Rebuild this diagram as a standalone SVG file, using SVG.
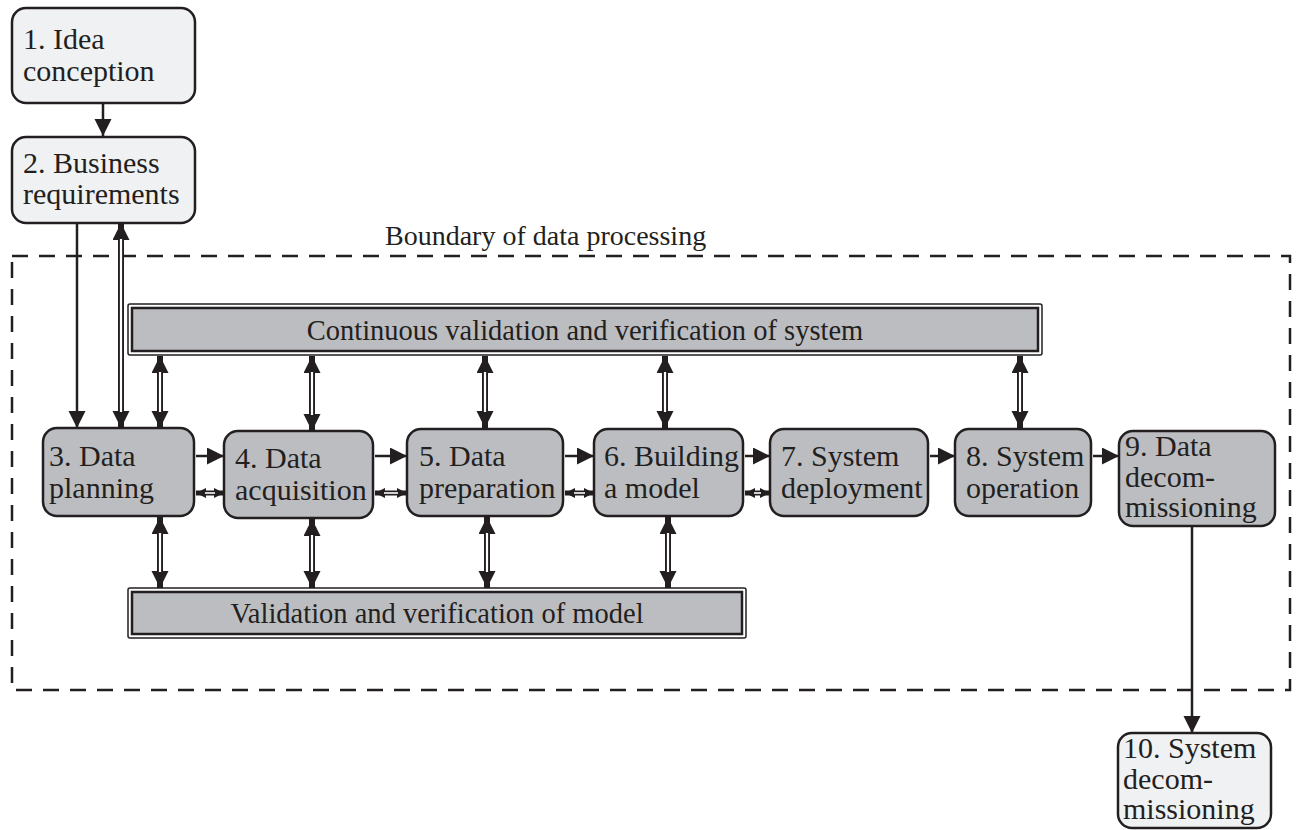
<svg xmlns="http://www.w3.org/2000/svg" width="1300" height="830" viewBox="0 0 1300 830">
  <style>
    text { font-family: "Liberation Serif", "Times New Roman", serif; fill: #231f20; }
    .t { font-size: 30px; }
    .bar-t { font-size: 28.5px; }
    .light { fill: #f0f1f3; stroke: #231f20; stroke-width: 2.5; }
    .dark { fill: #bcbdc1; stroke: #231f20; stroke-width: 2.5; }
    .bar-o { fill: #ffffff; stroke: #231f20; stroke-width: 1.5; }
    .bar-i { fill: #bcbdc1; stroke: #231f20; stroke-width: 2.5; }
    .boundary { fill: none; stroke: #231f20; stroke-width: 2.5; stroke-dasharray: 16 11; }
    .s { stroke: #231f20; stroke-width: 2.5; fill: none; }
    .d-out { stroke: #231f20; stroke-width: 6; fill: none; }
    .d-in { stroke: #ffffff; stroke-width: 2.2; fill: none; }
    .ds-out { stroke: #231f20; stroke-width: 5; fill: none; }
    .ds-in { stroke: #ffffff; stroke-width: 1.6; fill: none; }
  </style>
  <defs>
    <marker id="head" markerUnits="userSpaceOnUse" markerWidth="19" markerHeight="19" refX="17" refY="8.5" orient="auto-start-reverse">
      <path d="M0,0 L17,8.5 L0,17 z" fill="#231f20"/>
    </marker>
    <marker id="head-sm" markerUnits="userSpaceOnUse" markerWidth="11" markerHeight="11" refX="10" refY="5" orient="auto-start-reverse">
      <path d="M0,0 L10,5 L0,10 z" fill="#231f20"/>
    </marker>
  </defs>

  <rect width="1300" height="830" fill="#ffffff"/>

  <!-- boundary of the data processing stage -->
  <g id="boundary">
    <rect class="boundary" x="12" y="256" width="1278" height="434"/>
    <text x="385" y="245" style="font-size:28px">Boundary of data processing</text>
  </g>

  <!-- connectors -->
  <g id="connectors">
    <line class="s" x1="103" y1="103" x2="103" y2="136" marker-end="url(#head)"/>
    <line class="s" x1="77" y1="223" x2="77" y2="428" marker-end="url(#head)"/>
    <line class="s" x1="1192" y1="526" x2="1192" y2="733" marker-end="url(#head)"/>

    <!-- forward flow between stages -->
    <line class="s" x1="196" y1="456" x2="224" y2="456" marker-end="url(#head)"/>
    <line class="s" x1="375" y1="456" x2="407" y2="456" marker-end="url(#head)"/>
    <line class="s" x1="565" y1="456" x2="594" y2="456" marker-end="url(#head)"/>
    <line class="s" x1="745" y1="456" x2="770" y2="456" marker-end="url(#head)"/>
    <line class="s" x1="930" y1="456" x2="955" y2="456" marker-end="url(#head)"/>
    <line class="s" x1="1093" y1="456" x2="1119" y2="456" marker-end="url(#head)"/>

    <!-- two-way feedback between stages -->
    <line class="ds-out" x1="196" y1="493" x2="224" y2="493" marker-start="url(#head-sm)" marker-end="url(#head-sm)"/>
    <line class="ds-in" x1="205" y1="493" x2="215" y2="493"/>
    <line class="ds-out" x1="375" y1="493" x2="407" y2="493" marker-start="url(#head-sm)" marker-end="url(#head-sm)"/>
    <line class="ds-in" x1="384" y1="493" x2="398" y2="493"/>
    <line class="ds-out" x1="565" y1="493" x2="594" y2="493" marker-start="url(#head-sm)" marker-end="url(#head-sm)"/>
    <line class="ds-in" x1="574" y1="493" x2="585" y2="493"/>
    <line class="ds-out" x1="745" y1="493" x2="770" y2="493" marker-start="url(#head-sm)" marker-end="url(#head-sm)"/>
    <line class="ds-in" x1="754" y1="493" x2="761" y2="493"/>

    <!-- business requirements <-> data planning -->
    <line class="d-out" x1="121" y1="223" x2="121" y2="428" marker-start="url(#head)" marker-end="url(#head)"/>
    <line class="d-in" x1="121" y1="239" x2="121" y2="412"/>

    <!-- system validation links -->
    <line class="d-out" x1="160" y1="356" x2="160" y2="428" marker-start="url(#head)" marker-end="url(#head)"/>
    <line class="d-in" x1="160" y1="372" x2="160" y2="412"/>
    <line class="d-out" x1="312" y1="356" x2="312" y2="431" marker-start="url(#head)" marker-end="url(#head)"/>
    <line class="d-in" x1="312" y1="372" x2="312" y2="415"/>
    <line class="d-out" x1="485" y1="356" x2="485" y2="428" marker-start="url(#head)" marker-end="url(#head)"/>
    <line class="d-in" x1="485" y1="372" x2="485" y2="412"/>
    <line class="d-out" x1="665" y1="356" x2="665" y2="428" marker-start="url(#head)" marker-end="url(#head)"/>
    <line class="d-in" x1="665" y1="372" x2="665" y2="412"/>
    <line class="d-out" x1="1020" y1="356" x2="1020" y2="428" marker-start="url(#head)" marker-end="url(#head)"/>
    <line class="d-in" x1="1020" y1="372" x2="1020" y2="412"/>

    <!-- model validation links -->
    <line class="d-out" x1="160" y1="517" x2="160" y2="588" marker-start="url(#head)" marker-end="url(#head)"/>
    <line class="d-in" x1="160" y1="533" x2="160" y2="572"/>
    <line class="d-out" x1="312" y1="519" x2="312" y2="588" marker-start="url(#head)" marker-end="url(#head)"/>
    <line class="d-in" x1="312" y1="535" x2="312" y2="572"/>
    <line class="d-out" x1="487" y1="517" x2="487" y2="588" marker-start="url(#head)" marker-end="url(#head)"/>
    <line class="d-in" x1="487" y1="533" x2="487" y2="572"/>
    <line class="d-out" x1="668" y1="517" x2="668" y2="588" marker-start="url(#head)" marker-end="url(#head)"/>
    <line class="d-in" x1="668" y1="533" x2="668" y2="572"/>
  </g>

  <!-- validation bars -->
  <g id="system-validation">
    <rect class="bar-o" x="128" y="304" width="914" height="51" rx="2"/>
    <rect class="bar-i" x="132" y="308" width="906" height="43"/>
    <text class="bar-t" x="585" y="340" text-anchor="middle">Continuous validation and verification of system</text>
  </g>
  <g id="model-validation">
    <rect class="bar-o" x="128" y="588" width="618" height="50" rx="2"/>
    <rect class="bar-i" x="132" y="592" width="610" height="42"/>
    <text class="bar-t" x="437" y="623" text-anchor="middle">Validation and verification of model</text>
  </g>

  <!-- process stages -->
  <g id="n1">
    <rect class="light" x="12" y="8" width="183" height="95" rx="14"/>
    <text class="t" x="23" y="49">1. Idea</text>
    <text class="t" x="23" y="81">conception</text>
  </g>
  <g id="n2">
    <rect class="light" x="12" y="137" width="183" height="86" rx="14"/>
    <text class="t" x="23" y="173">2. Business</text>
    <text class="t" x="23" y="204">requirements</text>
  </g>
  <g id="n3">
    <rect class="dark" x="43" y="428" width="151" height="88" rx="14"/>
    <text class="t" x="49" y="466">3. Data</text>
    <text class="t" x="49" y="498">planning</text>
  </g>
  <g id="n4">
    <rect class="dark" x="224" y="431" width="149" height="87" rx="14"/>
    <text class="t" x="235" y="468">4. Data</text>
    <text class="t" x="235" y="500">acquisition</text>
  </g>
  <g id="n5">
    <rect class="dark" x="407" y="429" width="156" height="87" rx="14"/>
    <text class="t" x="419" y="466">5. Data</text>
    <text class="t" x="419" y="498">preparation</text>
  </g>
  <g id="n6">
    <rect class="dark" x="594" y="429" width="149" height="87" rx="14"/>
    <text class="t" x="604" y="466">6. Building</text>
    <text class="t" x="604" y="498">a model</text>
  </g>
  <g id="n7">
    <rect class="dark" x="770" y="429" width="158" height="87" rx="14"/>
    <text class="t" x="781" y="466">7. System</text>
    <text class="t" x="781" y="498">deployment</text>
  </g>
  <g id="n8">
    <rect class="dark" x="955" y="429" width="136" height="87" rx="14"/>
    <text class="t" x="966" y="466">8. System</text>
    <text class="t" x="966" y="498">operation</text>
  </g>
  <g id="n9">
    <rect class="dark" x="1119" y="431" width="156" height="95" rx="14"/>
    <text class="t" x="1125" y="456">9. Data</text>
    <text class="t" x="1125" y="487">decom-</text>
    <text class="t" x="1125" y="517">missioning</text>
  </g>
  <g id="n10">
    <rect class="light" x="1118" y="733" width="153" height="95" rx="14"/>
    <text class="t" x="1123" y="758">10. System</text>
    <text class="t" x="1123" y="789">decom-</text>
    <text class="t" x="1123" y="819">missioning</text>
  </g>
</svg>
